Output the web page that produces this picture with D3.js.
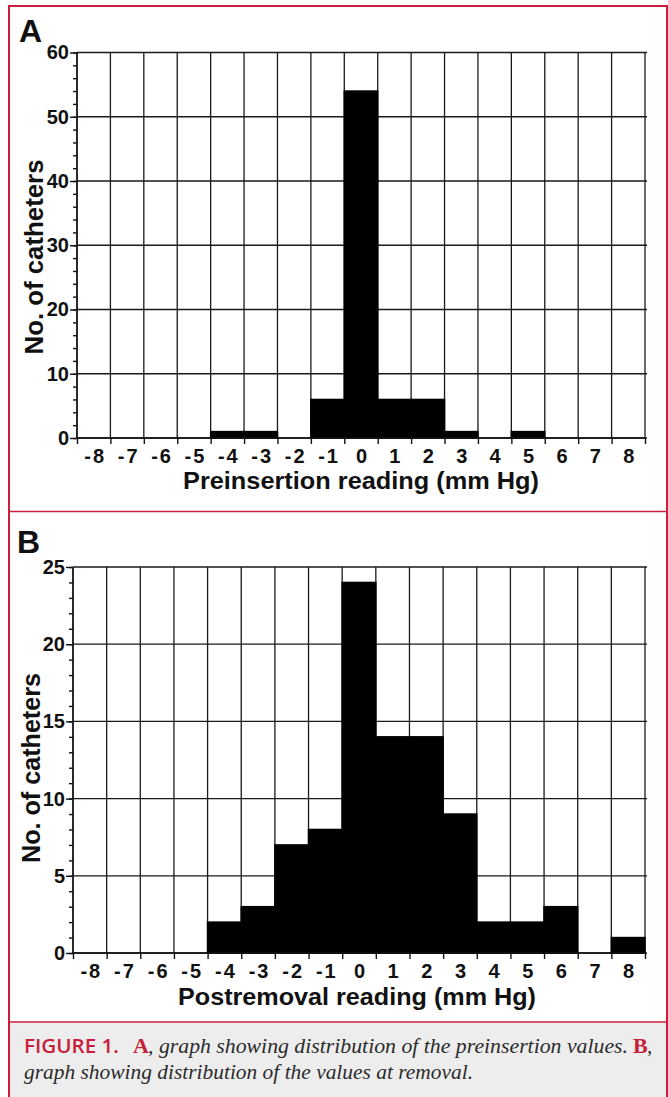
<!DOCTYPE html>
<html lang="en">
<head>
<meta charset="UTF-8">
<title>Figure 1</title>
<script src="https://cdnjs.cloudflare.com/ajax/libs/d3/7.8.5/d3.min.js"></script>
<style>
  body { margin: 0; background: #fff; }
  svg { display: block; }
</style>
</head>
<body>
<div id="chart"></div>
<script>
// bins (mm Hg) shown on both x axes
const readings = [-8, -7, -6, -5, -4, -3, -2, -1, 0, 1, 2, 3, 4, 5, 6, 7, 8];
// panel A: preinsertion counts per bin
const preinsertionCounts = [0, 0, 0, 0, 1, 1, 0, 6, 54, 6, 6, 1, 0, 1, 0, 0, 0];
// panel B: postremoval counts per bin
const postremovalCounts = [0, 0, 0, 0, 2, 3, 7, 8, 24, 14, 14, 9, 2, 2, 3, 0, 1];
const preTicks = [0, 10, 20, 30, 40, 50, 60];
const postTicks = [0, 5, 10, 15, 20, 25];

const W = 668, H = 1097;
const red = "#c8203a";
const sans = "'Liberation Sans', Arimo, Arial, Helvetica, sans-serif";
const narrow = "'Liberation Sans Narrow', 'Arial Narrow', 'Liberation Sans', sans-serif";
const serif = "'Liberation Serif', 'Times New Roman', serif";

const svg = d3.select("#chart").append("svg")
    .attr("width", W)
    .attr("height", H);

// frame + caption background
svg.append("rect")
    .attr("x", 9).attr("y", 1022).attr("width", 658).attr("height", H - 1022)
    .attr("fill", "#ededed");
svg.append("path")
    .attr("d", `M9,${H} V6 H667 V${H}`)
    .attr("fill", "none").attr("stroke", red).attr("stroke-width", 2);
svg.append("line").attr("x1", 9).attr("x2", 667).attr("y1", 511.5).attr("y2", 511.5)
    .attr("stroke", red).attr("stroke-width", 1.5);
svg.append("line").attr("x1", 9).attr("x2", 667).attr("y1", 1022).attr("y2", 1022)
    .attr("stroke", red).attr("stroke-width", 1.5);

function styleAxis(a) {
    a.attr("font-family", null).attr("font-size", null);
    a.selectAll("line").attr("stroke", "#111").attr("stroke-width", 1.4);
    a.selectAll("path").attr("stroke", "#111").attr("stroke-width", 1.4);
    a.selectAll("text")
        .style("font-family", narrow)
        .style("font-weight", "bold")
        .style("font-size", "20px")
        .attr("fill", "#111");
}

function drawPanel(opt) {
    const x = d3.scaleLinear().domain([-8.5, 8.5]).range([opt.left, opt.right]);
    const y = d3.scaleLinear().domain([0, opt.max]).range([opt.bottom, opt.top]);
    const g = svg.append("g");
    const data = readings.map((r, i) => ({ r, n: opt.counts[i] }));

    // grid
    const grid = g.append("g").attr("stroke", "#1a1a1a").attr("stroke-width", 1.3);
    grid.selectAll(".gy").data(opt.ticks).join("line")
        .attr("x1", opt.left).attr("x2", opt.right + 2)
        .attr("y1", d => y(d)).attr("y2", d => y(d));
    grid.selectAll(".gx").data(d3.range(-8.5, 9, 1)).join("line")
        .attr("x1", d => x(d)).attr("x2", d => x(d))
        .attr("y1", opt.top).attr("y2", opt.bottom);

    // bars
    g.selectAll(".bar").data(data).join("rect")
        .attr("x", d => x(d.r - 0.5))
        .attr("width", d => x(d.r + 0.5) - x(d.r - 0.5))
        .attr("y", d => y(d.n))
        .attr("height", d => y(0) - y(d.n))
        .attr("fill", "#000").attr("stroke", "#000").attr("stroke-width", 1.5);

    // y axis: major + minor
    g.append("g")
        .attr("transform", `translate(${opt.left},0)`)
        .call(d3.axisLeft(y).tickValues(d3.range(0, opt.max + 0.1, opt.minor)).tickSize(4).tickFormat(""))
        .call(a => a.select(".domain").remove())
        .call(styleAxis);
    g.append("g")
        .attr("transform", `translate(${opt.left},0)`)
        .call(d3.axisLeft(y).tickValues(opt.ticks).tickSize(7).tickPadding(1).tickFormat(d => String(d)))
        .call(a => a.select(".domain").attr("d", `M0,${opt.bottom}V${opt.top}`))
        .call(styleAxis);

    // x axis: ticks at bin edges, labels at bin centres
    g.append("g")
        .attr("transform", `translate(0,${opt.bottom})`)
        .call(d3.axisBottom(x).tickValues(d3.range(-8.5, 9, 1)).tickSize(6).tickFormat(""))
        .call(a => a.select(".domain").attr("d", `M${opt.left},0H${opt.right}`))
        .call(styleAxis);
    g.append("g")
        .attr("transform", `translate(0,${opt.bottom})`)
        .call(d3.axisBottom(x).tickValues(readings).tickSize(0).tickPadding(11).tickFormat(d => String(d)))
        .call(a => a.select(".domain").remove())
        .call(styleAxis)
        .call(a => a.selectAll("text").style("letter-spacing", "2px").attr("dx", 1));

    // titles
    const title = sel => sel.style("font-family", sans).style("font-weight", "bold").attr("fill", "#111");
    g.append("text").call(title)
        .attr("x", opt.panelX).attr("y", opt.panelY)
        .style("font-size", "32px").text(opt.panel);
    g.append("text").call(title)
        .attr("x", opt.xTitleX).attr("y", opt.xTitleY)
        .attr("text-anchor", "middle").style("font-size", "24px")
        .attr("textLength", opt.xTitleLen).attr("lengthAdjust", "spacingAndGlyphs")
        .text(opt.xTitle);
    g.append("text").call(title)
        .attr("transform", `translate(${opt.yTitleX},${opt.yTitleY}) rotate(-90)`)
        .attr("text-anchor", "middle").style("font-size", "25px")
        .attr("textLength", opt.yTitleLen).attr("lengthAdjust", "spacingAndGlyphs")
        .text("No. of catheters");
}

drawPanel({
    counts: preinsertionCounts, ticks: preTicks, max: 60, minor: 2,
    left: 77, right: 645, top: 52.5, bottom: 438,
    panel: "A", panelX: 19, panelY: 42,
    xTitle: "Preinsertion reading (mm Hg)", xTitleX: 361, xTitleY: 489, xTitleLen: 356,
    yTitleX: 43, yTitleY: 257, yTitleLen: 195
});

drawPanel({
    counts: postremovalCounts, ticks: postTicks, max: 25, minor: 1,
    left: 73, right: 645, top: 567, bottom: 953,
    panel: "B", panelX: 17, panelY: 553,
    xTitle: "Postremoval reading (mm Hg)", xTitleX: 357, xTitleY: 1005, xTitleLen: 358,
    yTitleX: 40, yTitleY: 768, yTitleLen: 190
});

// caption
const cap = svg.append("g");
cap.append("text")
    .attr("x", 24).attr("y", 1053)
    .style("font-family", "'Open Sans', 'Noto Sans', sans-serif").style("font-weight", "600")
    .style("font-size", "19px").attr("fill", red)
    .attr("textLength", 95).attr("lengthAdjust", "spacingAndGlyphs")
    .text("FIGURE 1.");
cap.append("text")
    .attr("x", 133).attr("y", 1053)
    .style("font-family", serif).style("font-weight", "bold")
    .style("font-size", "22px").attr("fill", red).text("A");
cap.append("text")
    .attr("x", 148).attr("y", 1053)
    .style("font-family", serif).style("font-style", "italic")
    .style("font-size", "21px").attr("fill", "#2b2b2b")
    .attr("textLength", 480).attr("lengthAdjust", "spacingAndGlyphs")
    .text(", graph showing distribution of the preinsertion values.");
cap.append("text")
    .attr("x", 633).attr("y", 1053)
    .style("font-family", serif).style("font-weight", "bold")
    .style("font-size", "22px").attr("fill", red).text("B");
cap.append("text")
    .attr("x", 647).attr("y", 1053)
    .style("font-family", serif).style("font-style", "italic")
    .style("font-size", "21px").attr("fill", "#2b2b2b").text(",");
cap.append("text")
    .attr("x", 24).attr("y", 1079)
    .style("font-family", serif).style("font-style", "italic")
    .style("font-size", "21px").attr("fill", "#2b2b2b")
    .attr("textLength", 449).attr("lengthAdjust", "spacingAndGlyphs")
    .text("graph showing distribution of the values at removal.");
</script>
</body>
</html>
